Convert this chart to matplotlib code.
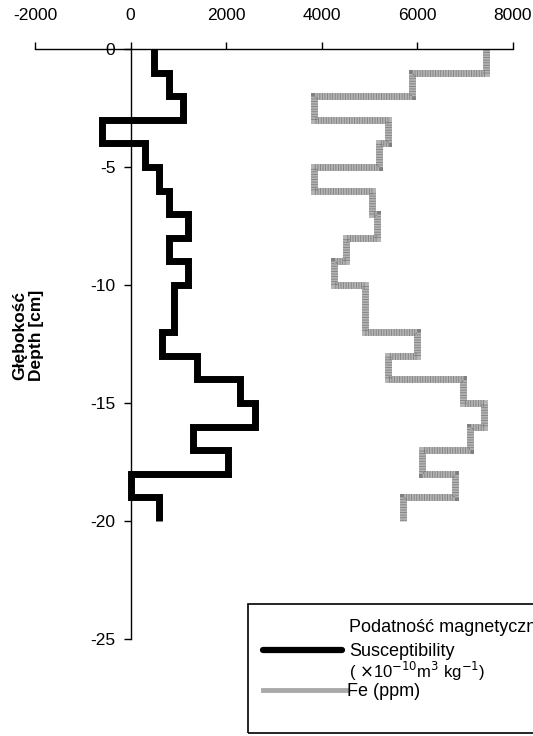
import matplotlib.pyplot as plt
from matplotlib.lines import Line2D
from matplotlib.patches import Rectangle

plt.rcParams['font.family'] = ['Liberation Sans', 'DejaVu Sans']
plt.rcParams['axes.unicode_minus'] = False

# granice warstw (cm) i wartosci dla kazdej warstwy
depth_edges = [0, -1, -2, -3, -4, -5, -6, -7, -8, -9, -10,
               -11, -12, -13, -14, -15, -16, -17, -18, -19, -20]
susceptibility = [500, 800, 1100, -600, 300, 600, 800, 1200, 800, 1200,
                  900, 900, 650, 1400, 2300, 2600, 1300, 2050, 0, 600]
fe_ppm = [7450, 5900, 3850, 5400, 5200, 3850, 5050, 5150, 4500, 4250,
          4900, 4900, 6000, 5400, 6950, 7400, 7100, 6100, 6800, 5700]

x_ticks = [-2000, 0, 2000, 4000, 6000, 8000]
y_ticks = [-25, -20, -15, -10, -5, 0]

W, H = 533, 736
fig = plt.figure(figsize=(W / 100, H / 100), dpi=100)
ax = fig.add_axes([35 / W, 1 - 639 / H, (512.7 - 35) / W, (639 - 49) / H])

# profile (Fe szare kropkowane, podatnosc czarna)
ax.stairs(fe_ppm, depth_edges, orientation='horizontal', baseline=None,
          color='#b4b4b4', linewidth=5, joinstyle='miter')
ax.stairs(fe_ppm, depth_edges, orientation='horizontal', baseline=None,
          color='#808080', linewidth=5, joinstyle='miter',
          linestyle=(0, (0.12, 0.25)))
ax.stairs(susceptibility, depth_edges, orientation='horizontal', baseline=None,
          color='black', linewidth=5, joinstyle='miter')

ax.set_xlim(-2000, 8000)
ax.set_ylim(-25, 0)
ax.spines['right'].set_visible(False)
ax.spines['bottom'].set_visible(False)
ax.spines['left'].set_position(('data', 0))
for s in ('top', 'left'):
    ax.spines[s].set_linewidth(1.0)

ax.xaxis.tick_top()
ax.set_xticks(x_ticks)
ax.set_yticks(y_ticks)
ax.tick_params(axis='x', direction='out', length=5, width=1.0, pad=14, labelsize=12.5)
ax.tick_params(axis='y', direction='out', length=5, width=1.0, pad=6, labelsize=12.5)

fig.text(28 / W, 1 - 335 / H, 'Głębokość\nDepth [cm]', rotation=90,
         ha='center', va='center', fontsize=12.5, fontweight='bold', linespacing=1.15)

# legenda rysowana recznie (ucieta z prawej jak w oryginale)
fig.patches.append(Rectangle((248 / W, 1 - 733 / H), 0.6, (733 - 604) / H,
                             transform=fig.transFigure, fill=False,
                             edgecolor='black', linewidth=1.2))
fig.lines.append(Line2D([263 / W, 342 / W], [1 - 650 / H, 1 - 650 / H],
                        transform=fig.transFigure, color='black', linewidth=4.5,
                        solid_capstyle='round'))
fig.lines.append(Line2D([263 / W, 346 / W], [1 - 690 / H, 1 - 690 / H],
                        transform=fig.transFigure, color='#a9a9a9', linewidth=3.5))
tx = 349 / W
fig.text(tx, 1 - 627 / H, 'Podatność magnetyczna', fontsize=13, va='center')
fig.text(tx, 1 - 651 / H, 'Susceptibility', fontsize=13, va='center')
fig.text(tx, 1 - 671 / H, r'( $\times$10$^{-10}$m$^{3}$ kg$^{-1}$)', fontsize=12, va='center')
fig.text(tx - 2 / W, 1 - 691 / H, 'Fe (ppm)', fontsize=13, va='center')

fig.savefig('out.png', dpi=100)
